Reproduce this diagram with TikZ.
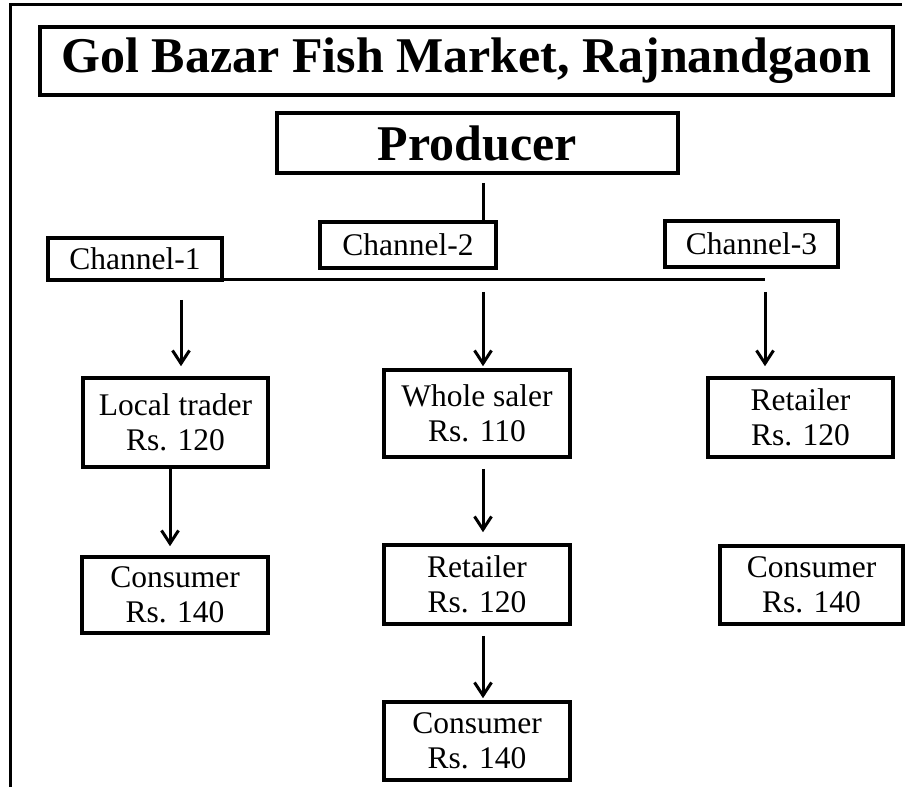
\documentclass[tikz,border=0pt]{standalone}
\usepackage{fontspec}
\setmainfont{Liberation Serif}
\usetikzlibrary{arrows.meta}

\begin{document}
\begin{tikzpicture}[x=1pt,y=1pt,box/.style={draw,line width=3.6pt,inner sep=0pt,align=center,font=\fontsize{31.5}{35}\selectfont},headbox/.style={draw,line width=3.6pt,inner sep=0pt,font=\fontsize{50}{56}\selectfont\bfseries},link/.style={line width=3pt},flow/.style={line width=3pt,-{Straight Barb[length=13pt,width=17pt,line width=3pt]}}]
\useasboundingbox (0,0) rectangle (912,787);
\coordinate (T) at (466.5,726);
\coordinate (P) at (477.5,644);
\coordinate (C1) at (135,528);
\coordinate (C2) at (408,542);
\coordinate (C3) at (751.5,543);
\coordinate (L1) at (175.5,364.5);
\coordinate (W2) at (477,373.5);
\coordinate (R3) at (800.5,369.5);
\coordinate (K1) at (175,192);
\coordinate (R2) at (477,202.5);
\coordinate (K3) at (811.5,202);
\coordinate (K2) at (477,46);
\coordinate (drop) at (483,604);
\coordinate (bus1) at (181,507);
\coordinate (bus3) at (765,507);
% frame, left and top only
\draw[link] (10,0) -- (10,782) -- (902,782);
\node[headbox,minimum width=853pt,minimum height=68pt] (title) at (T) {Gol Bazar Fish Market, Rajnandgaon};
\node[headbox,minimum width=401pt,minimum height=60pt] (prod) at (P) {Producer};
\node[box,minimum width=174pt,minimum height=42pt] (ch1) at (C1) {Channel-1};
\node[box,minimum width=176pt,minimum height=46pt] (ch2) at (C2) {Channel-2};
\node[box,minimum width=173pt,minimum height=46pt] (ch3) at (C3) {Channel-3};
\node[box,minimum width=185pt,minimum height=89pt] (trader) at (L1) {Local trader\\Rs. 120};
\node[box,minimum width=186pt,minimum height=87pt] (whole) at (W2) {Whole saler\\Rs. 110};
\node[box,minimum width=185pt,minimum height=79pt] (ret3) at (R3) {Retailer\\Rs. 120};
\node[box,minimum width=186pt,minimum height=76pt] (cons1) at (K1) {Consumer\\Rs. 140};
\node[box,minimum width=186pt,minimum height=79pt] (ret2) at (R2) {Retailer\\Rs. 120};
\node[box,minimum width=183pt,minimum height=78pt] (cons3) at (K3) {Consumer\\Rs. 140};
\node[box,minimum width=186pt,minimum height=78pt] (cons2) at (K2) {Consumer\\Rs. 140};
\draw[link] (drop) -- (drop |- ch2.north);
\draw[link] (bus1) -- (bus3);
\draw[flow,shorten <=20pt,shorten >=10pt] (bus1) -- (bus1 |- trader.north);
\draw[flow,shorten <=12pt,shorten >=2pt] (drop |- bus1) -- (drop |- whole.north);
\draw[flow,shorten <=12pt,shorten >=10pt] (bus3) -- (bus3 |- ret3.north);
\draw[flow,shorten >=9pt] ([xshift=-5.5pt]trader.south) -- ([xshift=-5pt]cons1.north);
\draw[flow,shorten <=10pt,shorten >=11pt] ([xshift=6pt]whole.south) -- ([xshift=6pt]ret2.north);
\draw[flow,shorten <=10pt,shorten >=2pt] ([xshift=6pt]ret2.south) -- ([xshift=6pt]cons2.north);
\end{tikzpicture}
\end{document}
